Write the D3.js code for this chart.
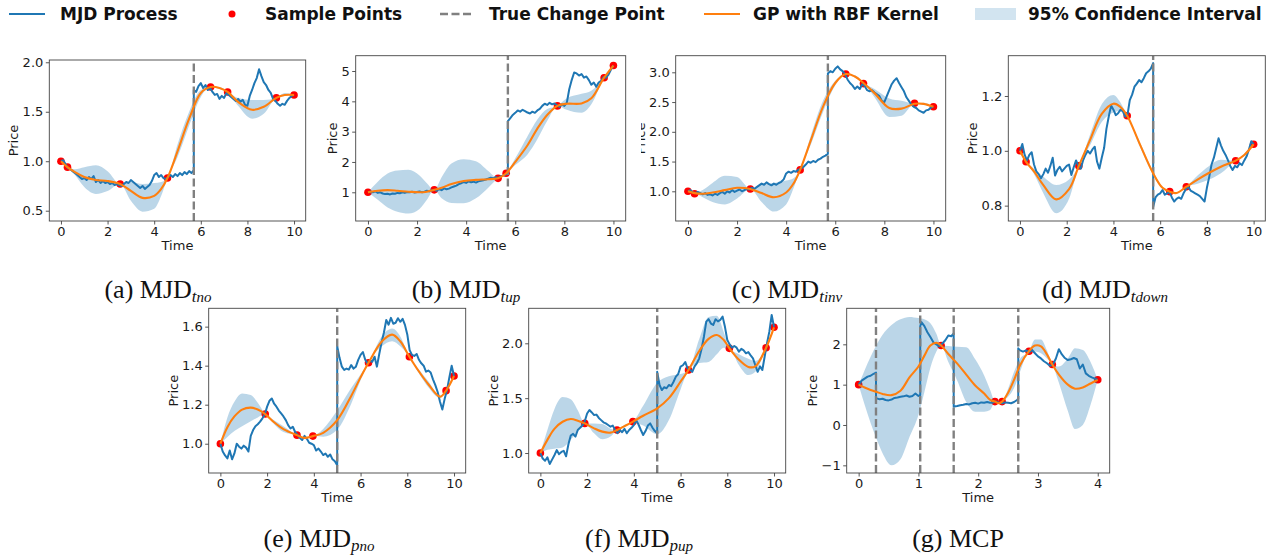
<!DOCTYPE html>
<html><head><meta charset="utf-8">
<script src="https://cdn.jsdelivr.net/npm/d3@7"></script>
<style>body{margin:0;background:#fff}</style>
</head><body><svg id="c" width="1284" height="556"></svg>
<script>
// ---------------- DATA ----------------
// MJD paths sampled on a regular time grid; jumps = [time, value before, value after]
const aPath = [1.00,1.01,0.97,0.93,0.92,0.90,0.88,0.86,0.84,0.82,
0.83,0.81,0.84,0.82,0.85,0.79,0.81,0.78,0.80,0.78,
0.79,0.77,0.78,0.76,0.77,0.76,0.75,0.77,0.79,0.78,
0.81,0.79,0.77,0.75,0.73,0.75,0.72,0.74,0.76,0.80,
0.86,0.88,0.84,0.86,0.83,0.82,0.84,0.86,0.84,0.87,
0.85,0.88,0.86,0.89,0.87,0.90,0.88,0.91,1.70,1.76,
1.79,1.74,1.77,1.72,1.74,1.70,1.67,1.68,1.63,1.66,
1.64,1.69,1.67,1.65,1.63,1.61,1.63,1.60,1.62,1.57,
1.56,1.66,1.72,1.79,1.84,1.93,1.86,1.80,1.77,1.72,
1.69,1.63,1.61,1.58,1.56,1.58,1.57,1.61,1.64,1.66,1.67];
const aJumps = [[5.7, 0.91, 1.72]];
const aSamples = [[0,1.0],[0.28,0.94],[2.54,0.77],[4.57,0.83],[6.42,1.75],[7.15,1.70],[9.24,1.64],[10,1.67]];
const aGP = [[0,1.00],[0.28,0.94],[0.6,0.89,0.86,0.92],[1.0,0.84,0.74,0.94],[1.5,0.81,0.67,0.96],[2.0,0.80,0.70,0.90],[2.54,0.77],[3.0,0.70,0.60,0.79],[3.5,0.63,0.49,0.77],[4.0,0.65,0.52,0.78],[4.3,0.72,0.65,0.79],[4.57,0.83],[5.0,1.10,1.04,1.17],[5.5,1.43,1.36,1.50],[6.0,1.69,1.65,1.72],[6.42,1.75],[6.8,1.74,1.73,1.75],[7.15,1.70],[7.6,1.60,1.56,1.64],[8.2,1.52,1.43,1.62],[8.7,1.55,1.48,1.62],[9.24,1.64],[9.6,1.67,1.66,1.69],[10,1.67]];
const aCP = [5.7];

const bPath = [1.00,1.02,1.00,1.03,0.98,1.00,0.96,0.94,0.95,0.93,
0.96,0.95,0.98,0.97,1.00,0.98,1.01,1.00,1.02,0.99,
1.01,1.03,1.00,1.02,1.05,1.03,1.06,1.08,1.05,1.10,
1.07,1.13,1.10,1.12,1.16,1.19,1.22,1.27,1.30,1.34,
1.31,1.36,1.33,1.35,1.32,1.36,1.38,1.40,1.42,1.45,
1.48,1.46,1.50,1.47,1.52,1.55,1.58,1.62,3.45,3.55,
3.62,3.70,3.66,3.72,3.68,3.63,3.60,3.66,3.62,3.70,
3.75,3.85,3.92,3.88,3.95,3.90,3.93,3.87,3.82,3.90,
3.85,3.95,4.40,4.70,4.95,4.92,4.85,4.90,4.78,4.82,
4.70,4.55,4.62,4.48,4.62,4.68,4.80,4.78,4.88,5.05,5.18];
const bJumps = [[5.7, 1.62, 3.35]];
const bSamples = [[0,1.0],[2.7,1.08],[5.3,1.46],[5.63,1.63],[7.72,3.85],[9.62,4.78],[10,5.18]];
const bGP = [[0,1.00],[0.4,1.05,0.75,1.35],[0.8,1.07,0.50,1.62],[1.2,1.05,0.36,1.72],[1.65,1.02,0.30,1.74],[2.1,1.00,0.45,1.55],[2.4,1.02,0.75,1.30],[2.7,1.08],[3.0,1.15,0.80,1.50],[3.4,1.27,0.65,1.95],[3.9,1.37,0.64,2.09],[4.4,1.41,0.80,2.02],[4.9,1.43,1.15,1.70],[5.3,1.46],[5.63,1.63],[6.0,2.00,1.90,2.12],[6.5,2.55,2.25,2.85],[6.9,3.10,2.75,3.40],[7.3,3.55,3.35,3.75],[7.72,3.85],[8.1,3.92,3.72,4.10],[8.7,3.93,3.62,4.25],[9.1,4.10,3.90,4.35],[9.62,4.78],[10,5.18]];
const bCP = [5.7];

const cPath = [1.00,1.02,0.98,0.97,0.99,0.97,0.95,0.97,0.94,0.95,
0.93,0.96,0.94,0.97,0.99,0.96,1.00,0.98,1.02,0.99,
1.01,1.03,1.00,1.02,1.04,1.03,1.06,1.04,1.07,1.10,
1.13,1.11,1.15,1.12,1.10,1.13,1.11,1.14,1.16,1.20,
1.30,1.33,1.31,1.34,1.33,1.36,1.38,1.41,1.45,1.50,
1.48,1.51,1.49,1.53,1.55,1.58,1.60,1.63,3.02,3.00,
3.06,3.10,3.05,3.02,2.97,2.88,2.82,2.78,2.72,2.76,
2.72,2.80,2.77,2.70,2.68,2.70,2.66,2.63,2.60,2.52,
2.50,2.60,2.70,2.80,2.86,2.90,2.82,2.75,2.68,2.58,
2.52,2.46,2.42,2.40,2.36,2.34,2.32,2.36,2.37,2.41,2.42];
const cJumps = [[5.7, 1.63, 2.98]];
const cSamples = [[0,1.0],[0.27,0.96],[2.54,1.04],[4.57,1.36],[6.43,2.97],[7.15,2.81],[9.23,2.48],[10,2.42]];
const cGP = [[0,1.00],[0.27,0.97],[0.6,0.96,0.90,1.02],[1.0,0.98,0.82,1.14],[1.5,1.02,0.78,1.26],[2.0,1.06,0.88,1.24],[2.54,1.04],[3.0,0.97,0.82,1.12],[3.5,0.90,0.66,1.14],[4.0,0.98,0.78,1.18],[4.3,1.13,1.05,1.22],[4.57,1.36],[5.0,1.85,1.78,1.93],[5.5,2.42,2.33,2.52],[6.0,2.82,2.78,2.86],[6.43,2.97],[6.8,2.93,2.91,2.95],[7.15,2.82],[7.6,2.65,2.58,2.72],[8.2,2.40,2.25,2.56],[8.7,2.39,2.27,2.52],[9.23,2.47],[9.6,2.47,2.45,2.49],[10,2.42]];
const cCP = [5.7];

const dPath = [1.000,1.025,0.985,0.965,0.985,0.995,0.950,0.925,0.915,0.900,
0.915,0.935,0.920,0.945,0.975,0.910,0.930,0.942,0.925,0.935,
0.945,0.950,0.912,0.940,0.965,0.945,0.935,0.965,0.985,1.000,
0.990,1.005,1.015,0.960,0.935,0.975,1.010,1.080,1.125,1.165,
1.150,1.130,1.137,1.150,1.145,1.125,1.130,1.185,1.205,1.234,
1.245,1.258,1.250,1.265,1.283,1.290,1.300,1.320,0.830,0.840,
0.845,0.857,0.840,0.845,0.850,0.830,0.815,0.825,0.830,0.825,
0.845,0.860,0.870,0.855,0.850,0.845,0.840,0.835,0.825,0.815,
0.865,0.905,0.950,0.975,1.010,1.046,1.020,1.000,0.985,0.966,
0.945,0.930,0.945,0.940,0.955,0.948,0.965,0.980,1.005,1.035,1.024];
const dJumps = [[5.7, 1.32, 0.795]];
const dSamples = [[0,1.0],[0.26,0.96],[2.52,0.945],[4.59,1.128],[6.41,0.851],[7.12,0.869],[9.23,0.964],[10,1.024]];
const dGP = [[0,1.000],[0.26,0.960],[0.6,0.925,0.915,0.935],[1.0,0.875,0.845,0.905],[1.55,0.823,0.772,0.875],[2.1,0.860,0.825,0.895],[2.52,0.945],[3.0,1.040,1.020,1.060],[3.5,1.135,1.105,1.170],[4.0,1.172,1.140,1.204],[4.3,1.160,1.145,1.176],[4.59,1.128],[5.1,1.030,1.022,1.038],[5.7,0.918,0.912,0.925],[6.1,0.865,0.862,0.868],[6.41,0.851],[6.7,0.846,0.844,0.848],[7.12,0.869],[7.6,0.895,0.880,0.910],[8.1,0.920,0.895,0.945],[8.6,0.942,0.918,0.967],[9.23,0.964],[9.6,0.985,0.981,0.989],[10,1.024]];
const dCP = [5.7];

const ePath = [1.000,0.960,0.940,0.925,0.965,0.920,0.950,1.000,0.985,0.975,
0.990,0.980,0.960,1.040,1.070,1.090,1.100,1.113,1.130,1.150,
1.190,1.220,1.232,1.205,1.190,1.170,1.155,1.140,1.121,1.095,
1.078,1.087,1.060,1.045,1.030,1.019,1.040,1.025,1.005,1.000,
0.993,0.965,0.975,0.960,0.942,0.950,0.933,0.945,0.920,0.910,
0.890,
1.440,1.395,1.378,1.385,1.380,1.403,1.385,1.395,1.430,1.455,
1.470,1.430,1.412,1.425,1.420,1.446,1.395,1.460,1.520,1.570,
1.634,1.610,1.645,1.615,1.620,1.643,1.625,1.640,1.609,1.560,
1.480,1.455,1.450,1.460,1.430,1.412,1.400,1.369,1.375,1.365,
1.330,1.300,1.265,1.215,1.175,1.230,1.275,1.340,1.400,1.347];
const eJumps = [[5.0, 0.89, 1.50]];
const eSamples = [[0,1.0],[1.92,1.152],[3.28,1.044],[3.96,1.039],[6.34,1.415],[8.09,1.446],[9.66,1.272],[10,1.347]];
const eGP = [[0,1.000],[0.3,1.085,1.035,1.135],[0.6,1.140,1.065,1.215],[0.93,1.175,1.090,1.258],[1.3,1.185,1.115,1.250],[1.6,1.175,1.135,1.210],[1.92,1.152],[2.3,1.110,1.100,1.120],[2.7,1.075,1.060,1.090],[3.28,1.044],[3.6,1.030,1.027,1.033],[3.96,1.039],[4.4,1.056,1.036,1.076],[5.0,1.121,1.072,1.170],[5.6,1.245,1.205,1.285],[6.0,1.340,1.325,1.355],[6.34,1.415],[6.9,1.523,1.498,1.548],[7.35,1.559,1.525,1.590],[7.7,1.525,1.500,1.550],[8.09,1.446],[8.5,1.370,1.360,1.380],[8.9,1.305,1.290,1.320],[9.4,1.241,1.235,1.247],[9.66,1.272],[10,1.347]];
const eCP = [5.0];

const fPath = [1.000,0.950,0.930,0.960,0.900,0.940,0.980,1.027,0.990,1.010,
1.020,0.970,1.080,1.160,1.175,1.150,1.210,1.230,1.250,1.290,
1.360,1.392,1.370,1.346,1.350,1.320,1.300,1.280,1.270,1.255,
1.240,1.250,1.210,1.180,1.210,1.190,1.220,1.180,1.210,1.230,
1.255,1.300,1.260,1.210,1.164,1.200,1.250,1.270,1.230,1.200,
1.180,
1.620,1.574,1.600,1.590,1.620,1.610,1.650,1.696,1.720,1.787,
1.800,1.830,1.770,1.760,1.740,1.790,1.820,1.863,1.950,2.060,
2.198,2.220,2.180,2.167,2.220,2.200,2.213,2.243,2.150,2.030,
1.990,1.960,1.975,1.960,1.924,1.950,1.935,1.909,1.920,1.890,
1.863,1.800,1.740,1.790,1.757,1.880,2.000,2.106,2.258,2.150];
const fJumps = [[5.0, 1.18, 1.74]];
const fSamples = [[0,1.0],[1.9,1.27],[3.28,1.21],[3.96,1.286],[6.34,1.757],[8.09,1.954],[9.66,1.96],[10,2.146]];
const fGP = [[0,1.000],[0.3,1.120,1.030,1.210],[0.6,1.220,1.040,1.400],[0.95,1.285,1.050,1.510],[1.3,1.310,1.120,1.490],[1.6,1.295,1.200,1.390],[1.9,1.270],[2.3,1.225,1.180,1.270],[2.65,1.195,1.125,1.265],[3.0,1.186,1.150,1.222],[3.28,1.210],[3.6,1.245,1.235,1.255],[3.96,1.286],[4.4,1.340,1.250,1.430],[5.0,1.407,1.170,1.640],[5.5,1.500,1.300,1.700],[6.0,1.650,1.580,1.720],[6.34,1.757],[6.8,1.930,1.820,2.040],[7.2,2.040,1.830,2.240],[7.55,2.076,1.900,2.250],[7.85,2.030,1.960,2.100],[8.09,1.954],[8.5,1.850,1.800,1.900],[8.9,1.785,1.710,1.860],[9.2,1.790,1.740,1.840],[9.66,1.960],[10,2.146]];
const fCP = [5.0];

const gPath = [1.00,1.10,1.15,1.20,1.22,1.27,0.66,0.64,0.65,0.62,
0.61,0.63,0.67,0.68,0.70,0.71,0.73,0.70,0.72,0.78,
0.72,2.55,2.45,2.30,2.18,2.05,2.00,1.95,2.02,2.10,
2.22,2.20,0.46,0.47,0.49,0.50,0.52,0.51,0.54,0.55,
0.53,0.56,0.55,0.57,0.55,0.56,0.58,0.55,0.54,0.56,
0.55,0.54,0.57,0.62,1.85,1.82,1.85,1.80,1.86,1.78,
1.70,1.65,1.58,1.53,1.47,1.50,1.65,1.88,1.75,1.66,
1.61,1.63,1.66,1.63,1.40,1.50,1.28,1.22,1.18,1.15,1.12];
const gJumps = [[0.29,1.30,0.68],[1.03,0.74,2.45],[1.59,2.27,0.45],[2.67,0.65,1.90]];
const gSamples = [[0,1.0],[1.38,1.97],[2.28,0.58],[2.40,0.58],[2.85,1.83],[3.24,1.50],[4.0,1.12]];
const gGP = [[0,1.00],[0.1,0.93,0.50,1.36],[0.2,0.87,0.05,1.69],[0.3,0.82,-0.35,1.99],[0.4,0.77,-0.70,2.24],[0.55,0.74,-1.00,2.48],[0.7,0.85,-0.85,2.62],[0.85,1.18,-0.30,2.68],[1.0,1.45,0.25,2.65],[1.1,1.72,0.82,2.62],[1.2,1.97,1.42,2.52],[1.3,2.04,1.82,2.26],[1.38,1.97],[1.5,1.76,1.56,1.96],[1.65,1.52,1.10,1.94],[1.8,1.25,0.57,1.93],[1.95,0.98,0.33,1.63],[2.1,0.78,0.33,1.23],[2.2,0.62,0.37,0.87],[2.28,0.58],[2.34,0.54,0.52,0.56],[2.40,0.58],[2.5,0.80,0.70,0.90],[2.6,1.12,0.92,1.32],[2.7,1.48,1.32,1.64],[2.85,1.83],[2.95,1.97,1.82,2.12],[3.05,1.95,1.78,2.12],[3.15,1.75,1.65,1.85],[3.24,1.50],[3.35,1.25,1.05,1.45],[3.5,1.00,0.35,1.65],[3.62,0.90,-0.10,1.90],[3.75,0.93,0.00,1.86],[3.88,1.03,0.50,1.56],[4.0,1.12]];
const gCP = [0.29,1.03,1.59,2.67];

const xTicks10 = [0,2,4,6,8,10];
const xTicks4 = [0,1,2,3,4];
const captions = [["(a) MJD","t","no"],["(b) MJD","t","up"],["(c) MJD","t","inv"],["(d) MJD","t","down"],["(e) MJD","p","no"],["(f) MJD","p","up"],["(g) MCP"]];
const legendLabels = ["MJD Process","Sample Points","True Change Point","GP with RBF Kernel","95% Confidence Interval"];

// ---------------- LAYOUT ----------------
const panels = [
 {key:'a',path:aPath,dt:0.1,jumps:aJumps,s:aSamples,gp:aGP,cp:aCP,l:49.3,r:305.7,t:60,b:221,xd:[-0.5,10.5],yd:[0.396,2.023],xt:xTicks10,yt:[0.5,1.0,1.5,2.0],yf:'.1f',cap:0,cx:158,cy:298},
 {key:'b',path:bPath,dt:0.1,jumps:bJumps,s:bSamples,gp:bGP,cp:bCP,l:355.7,r:625.7,t:55.7,b:221,xd:[-0.5,10.5],yd:[0.053,5.505],xt:xTicks10,yt:[1,2,3,4,5],yf:'d',cap:1,cx:466,cy:298},
 {key:'c',path:cPath,dt:0.1,jumps:cJumps,s:cSamples,gp:cGP,cp:cCP,l:675.7,r:945.7,t:55.7,b:221,xd:[-0.5,10.5],yd:[0.501,3.279],xt:xTicks10,yt:[1.0,1.5,2.0,2.5,3.0],yf:'.1f',cap:2,cx:787,cy:298,clipLabel:641},
 {key:'d',path:dPath,dt:0.1,jumps:dJumps,s:dSamples,gp:dGP,cp:dCP,l:1008.3,r:1265.3,t:55.7,b:221,xd:[-0.5,10.5],yd:[0.744,1.347],xt:xTicks10,yt:[0.8,1.0,1.2],yf:'.1f',cap:3,cx:1105,cy:298},
 {key:'e',path:ePath,dt:0.1,jumps:eJumps,s:eSamples,gp:eGP,cp:eCP,l:208.7,r:465.7,t:308.3,b:473,xd:[-0.5,10.5],yd:[0.850,1.694],xt:xTicks10,yt:[1.0,1.2,1.4,1.6],yf:'.1f',cap:4,cx:319,cy:547},
 {key:'f',path:fPath,dt:0.1,jumps:fJumps,s:fSamples,gp:fGP,cp:fCP,l:528.7,r:785.7,t:308.3,b:473,xd:[-0.5,10.5],yd:[0.818,2.319],xt:xTicks10,yt:[1.0,1.5,2.0],yf:'.1f',cap:5,cx:639,cy:547},
 {key:'g',path:gPath,dt:0.05,jumps:gJumps,s:gSamples,gp:gGP,cp:gCP,l:846.7,r:1109.7,t:308.3,b:473,xd:[-0.2,4.2],yd:[-1.19,2.893],xt:xTicks4,yt:[-1,0,1,2],yf:'d',cap:6,cx:958,cy:547}
];

const BLUE='#1f77b4', ORANGE='#ff7f0e', GRAY='#808080';
const TICKFONT='DejaVu Sans';
const svg = d3.select('#c');
svg.append('rect').attr('width',1284).attr('height',556).attr('fill','#fff');
const defs = svg.append('defs');

function buildPath(vals, dt, jumps){
  const pts=[];
  vals.forEach((v,i)=>{
    const t=+(i*dt).toFixed(6);
    if(jumps.some(j=>Math.abs(j[0]-t)<1e-6)) return;
    pts.push([t,v,0]);
  });
  jumps.forEach(j=>{pts.push([j[0],j[1],0]); pts.push([j[0],j[2],1]);});
  pts.sort((a,b)=>(a[0]-b[0])||(a[2]-b[2]));
  return pts;
}

function drawPanel(p){
  const g=svg.append('g');
  const x=d3.scaleLinear().domain(p.xd).range([p.l,p.r]);
  const y=d3.scaleLinear().domain(p.yd).range([p.b,p.t]);
  const id='clip_'+p.key;
  defs.append('clipPath').attr('id',id).append('rect')
    .attr('x',p.l).attr('y',p.t).attr('width',p.r-p.l).attr('height',p.b-p.t);
  const pg=g.append('g').attr('clip-path',`url(#${id})`);
  const gp=p.gp.map(r=>({t:r[0],m:r[1],lo:r.length>2?r[2]:r[1],hi:r.length>2?r[3]:r[1]}));

  pg.selectAll('circle').data(p.s).join('circle')
    .attr('cx',d=>x(d[0])).attr('cy',d=>y(d[1])).attr('r',3.8).attr('fill','red');
  pg.append('path').datum(gp)
    .attr('d',d3.area().x(d=>x(d.t)).y0(d=>y(d.lo)).y1(d=>y(d.hi)).curve(d3.curveMonotoneX))
    .attr('fill',BLUE).attr('fill-opacity',0.3);
  pg.append('path').datum(buildPath(p.path,p.dt,p.jumps))
    .attr('d',d3.line().x(d=>x(d[0])).y(d=>y(d[1])))
    .attr('fill','none').attr('stroke',BLUE).attr('stroke-width',2).attr('stroke-linejoin','round');
  pg.selectAll('line.cp').data(p.cp).join('line').attr('class','cp')
    .attr('x1',d=>x(d)).attr('x2',d=>x(d)).attr('y1',p.b).attr('y2',p.t)
    .attr('stroke',GRAY).attr('stroke-width',2.4).attr('stroke-dasharray','8,3.5');
  pg.append('path').datum(gp)
    .attr('d',d3.line().x(d=>x(d.t)).y(d=>y(d.m)).curve(d3.curveCatmullRom.alpha(0.5)))
    .attr('fill','none').attr('stroke',ORANGE).attr('stroke-width',2.1);

  const styleAxis=(sel)=>{
    sel.select('.domain').remove();
    sel.selectAll('line').attr('stroke','#444').attr('stroke-width',0.9);
    sel.selectAll('text').attr('font-family',TICKFONT).attr('font-size',13).attr('fill','#1a1a1a');
  };
  const gx=g.append('g').attr('transform',`translate(0,${p.b})`)
    .call(d3.axisBottom(x).tickValues(p.xt).tickSize(3.5).tickPadding(2.5).tickFormat(d3.format('d')));
  styleAxis(gx);
  const gy=g.append('g').attr('transform',`translate(${p.l},0)`)
    .call(d3.axisLeft(y).tickValues(p.yt).tickSize(3.5).tickPadding(2.5).tickFormat(d3.format(p.yf)));
  styleAxis(gy);
  g.append('rect').attr('x',p.l).attr('y',p.t).attr('width',p.r-p.l).attr('height',p.b-p.t)
    .attr('fill','none').attr('stroke','#444').attr('stroke-width',0.9);

  g.append('text').attr('x',(p.l+p.r)/2).attr('y',p.b+29).attr('text-anchor','middle')
    .attr('font-family',TICKFONT).attr('font-size',13).attr('fill','#1a1a1a').text('Time');
  let minX=Infinity;
  gy.selectAll('text').each(function(){const bb=this.getBBox(); minX=Math.min(minX,bb.x);});
  const lx=p.l+minX-4.5, ly=(p.t+p.b)/2;
  const lab=g.append('text').attr('transform',`translate(${lx},${ly}) rotate(-90)`).attr('text-anchor','middle')
    .attr('font-family',TICKFONT).attr('font-size',13).attr('fill','#1a1a1a').text('Price');
  if(p.clipLabel){
    const cid='clipLab_'+p.key;
    defs.append('clipPath').attr('id',cid).append('rect').attr('x',p.clipLabel).attr('y',0).attr('width',400).attr('height',556);
    const wrap=g.append('g').attr('clip-path',`url(#${cid})`);
    wrap.node().appendChild(lab.node());
  }

  const c=captions[p.cap];
  const ct=svg.append('text').attr('x',p.cx).attr('y',p.cy).attr('text-anchor','middle')
    .attr('font-family','Liberation Serif').attr('font-size',26).attr('fill','#111');
  ct.append('tspan').text(c[0]);
  if(c.length>1){
    ct.append('tspan').attr('font-style','italic').attr('font-size',17).attr('dy',3.5).text(c[1]);
    ct.append('tspan').attr('font-style','italic').attr('font-size',15).attr('dy',0.8).text(c[2]);
  }
}
panels.forEach(drawPanel);

// ---------------- LEGEND ----------------
const lg=svg.append('g');
const LY=14, LF=17;
lg.append('line').attr('x1',9).attr('x2',45).attr('y1',LY).attr('y2',LY).attr('stroke',BLUE).attr('stroke-width',2);
lg.append('circle').attr('cx',232).attr('cy',LY).attr('r',3.5).attr('fill','red');
lg.append('line').attr('x1',440).attr('x2',474).attr('y1',LY).attr('y2',LY).attr('stroke',GRAY).attr('stroke-width',2.4).attr('stroke-dasharray','8,3.5');
lg.append('line').attr('x1',704).attr('x2',740).attr('y1',LY).attr('y2',LY).attr('stroke',ORANGE).attr('stroke-width',2);
lg.append('rect').attr('x',975).attr('y',LY-6).attr('width',41).attr('height',12).attr('fill',BLUE).attr('fill-opacity',0.2);
const lx=[60,265,489,753,1028];
legendLabels.forEach((t,i)=>{
  lg.append('text').attr('x',lx[i]).attr('y',LY+6).attr('font-family','DejaVu Sans').attr('font-weight','bold')
    .attr('font-size',LF).attr('fill','#111').text(t);
});
</script></body></html>
